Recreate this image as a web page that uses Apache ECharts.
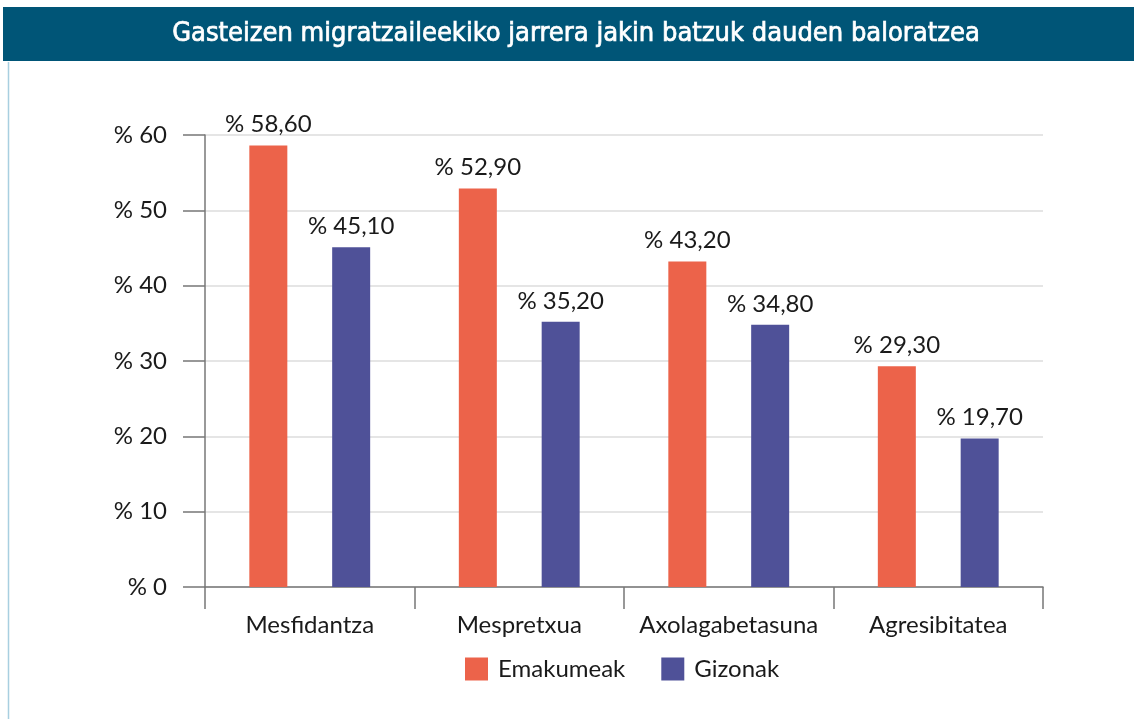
<!DOCTYPE html>
<html>
<head>
<meta charset="utf-8">
<script src="https://cdn.jsdelivr.net/npm/echarts@6/dist/echarts.min.js"></script>
<style>
  html, body { margin: 0; padding: 0; background: #fff; }
  #main { width: 1134px; height: 719px; }
</style>
</head>
<body>
<div id="main"></div>
<script>
var categories = ["Mesfidantza", "Mespretxua", "Axolagabetasuna", "Agresibitatea"];
var emakumeak = [58.6, 52.9, 43.2, 29.3];
var gizonak = [45.1, 35.2, 34.8, 19.7];
var seriesNames = ["Emakumeak", "Gizonak"];

var chartDom = document.getElementById("main");
var myChart = echarts.init(chartDom);
var option;

var fontFam = "Lato, 'Open Sans', sans-serif";

function pct(v) {
  return "% " + v.toFixed(2).replace(".", ",");
}

var labelOption = {
  show: true,
  position: "top",
  distance: 9,
  fontSize: 24,
  color: "#1a1a1a",
  fontFamily: fontFam,
  formatter: function (p) {
    return pct(p.value);
  },
};

option = {
  animation: false,
  color: ["#EC634A", "#4F5198"],
  graphic: [
    {
      type: "rect",
      shape: { x: 3, y: 7, width: 1131, height: 54 },
      style: { fill: "#005577" },
    },
    {
      type: "text",
      x: 576,
      y: 20,
      style: {
        text: "Gasteizen migratzaileekiko jarrera jakin batzuk dauden baloratzea",
        fill: "#fff",
        stroke: "#fff",
        lineWidth: 0.7,
        align: "center",
        font: "normal 27px 'DejaVu Sans Condensed', sans-serif",
      },
    },
    {
      type: "line",
      shape: { x1: 8.5, y1: 62, x2: 8.5, y2: 719 },
      style: { stroke: "#a8cfe0", lineWidth: 1.5 },
    },
  ],
  legend: {
    data: seriesNames,
    bottom: 33,
    left: 460,
    itemWidth: 23,
    itemHeight: 23,
    itemGap: 36,
    icon: "rect",
    textStyle: { fontSize: 24, color: "#1a1a1a", fontFamily: fontFam, padding: [0, 0, 0, 5] },
  },
  grid: {
    left: 205,
    right: 91,
    top: 135,
    bottom: 132,
    containLabel: false,
  },
  xAxis: {
    type: "category",
    data: categories,
    axisLine: { lineStyle: { color: "#777", width: 1.5 } },
    axisTick: { show: true, interval: 0, length: 22, lineStyle: { color: "#777", width: 1.5 } },
    axisLabel: { interval: 0, fontSize: 24, color: "#1a1a1a", fontFamily: fontFam, margin: 26 },
  },
  yAxis: {
    type: "value",
    min: 0,
    max: 60,
    interval: 10,
    axisLine: { show: true, lineStyle: { color: "#777", width: 1.5 } },
    axisTick: { show: true, length: 22, lineStyle: { color: "#777", width: 1.5 } },
    axisLabel: {
      fontSize: 24,
      color: "#1a1a1a",
      fontFamily: fontFam,
      margin: 38,
      formatter: function (v) {
        return "% " + v;
      },
    },
    splitLine: { lineStyle: { color: "#dcdcdc", width: 1.5 } },
  },
  series: [
    {
      name: seriesNames[0],
      type: "bar",
      barWidth: 38,
      barGap: "118%",
      label: labelOption,
      data: emakumeak,
    },
    {
      name: seriesNames[1],
      type: "bar",
      barWidth: 38,
      barGap: "118%",
      label: labelOption,
      data: gizonak,
    },
  ],
};

option && myChart.setOption(option);
</script>
</body>
</html>
